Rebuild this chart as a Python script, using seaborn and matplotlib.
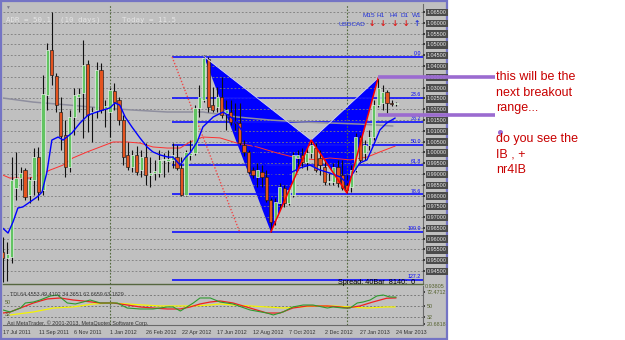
import matplotlib
matplotlib.use("Agg")
import matplotlib.pyplot as plt
from matplotlib.patches import Polygon, Rectangle
import seaborn as sns
import pandas as pd

# ---------------- data (USDCAD weekly) ----------------
opens = [0.9538, 0.9510, 0.9515, 0.9835, 0.9881, 0.9918, 0.9802, 0.9872, 0.9978, 0.9826,
         1.0266, 1.0474, 1.0354, 1.0187, 1.0080, 0.9932, 1.0164, 1.0257, 1.0275, 1.0409,
         1.0182, 1.0196, 1.0382, 1.0206, 1.0187, 1.0284, 1.0243, 1.0150, 0.9988, 0.9932,
         0.9988, 0.9918, 0.9978, 0.9895, 0.9904, 0.9904, 0.9965, 0.9960, 0.9965, 0.9978,
         0.9928, 0.9802, 0.9988, 0.9997, 1.0206, 1.0243, 1.0433, 1.0219, 1.0210, 1.0257,
         1.0182, 1.0187, 1.0141, 1.0136, 1.0034, 1.0002, 0.9918, 0.9886, 0.9909, 0.9886,
         0.9779, 0.9687, 0.9765, 0.9835, 0.9765, 0.9802, 0.9974, 0.9988, 0.9955, 0.9997,
         1.0020, 0.9974, 0.9932, 0.9863, 0.9863, 0.9932, 0.9895, 0.9849, 0.9840, 0.9918,
         1.0071, 0.9997, 1.0034, 1.0071, 1.0219, 1.0229, 1.0280, 1.0229, 1.0224]
highs = [0.9608, 0.9585, 0.9978, 1.0002, 0.9932, 0.9928, 0.9886, 1.0020, 1.0025, 1.0358,
         1.0507, 1.0650, 1.0368, 1.0257, 1.0150, 1.0196, 1.0298, 1.0298, 1.0521, 1.0428,
         1.0210, 1.0419, 1.0414, 1.0243, 1.0298, 1.0321, 1.0257, 1.0173, 1.0048, 1.0011,
         1.0029, 1.0011, 1.0043, 0.9978, 0.9965, 1.0011, 0.9997, 1.0011, 1.0043, 1.0034,
         0.9978, 1.0011, 1.0057, 1.0220, 1.0312, 1.0451, 1.0442, 1.0303, 1.0303, 1.0349,
         1.0243, 1.0243, 1.0229, 1.0229, 1.0057, 1.0011, 0.9932, 0.9951, 0.9941, 0.9918,
         0.9789, 0.9789, 0.9858, 0.9849, 0.9835, 1.0002, 1.0011, 1.0020, 1.0020, 1.0057,
         1.0043, 1.0011, 0.9965, 0.9904, 0.9951, 0.9965, 0.9965, 0.9895, 0.9941, 1.0090,
         1.0080, 1.0057, 1.0104, 1.0243, 1.0345, 1.0312, 1.0289, 1.0243, 1.0233]
lows = [0.9399, 0.9404, 0.9487, 0.9779, 0.9826, 0.9779, 0.9765, 0.9802, 0.9779, 0.9802,
        1.0196, 1.0312, 1.0187, 1.0011, 0.9886, 0.9909, 1.0080, 1.0187, 1.0067, 1.0094,
        1.0048, 1.0159, 1.0182, 1.0117, 1.0071, 1.0196, 1.0127, 0.9941, 0.9918, 0.9909,
        0.9895, 0.9886, 0.9849, 0.9840, 0.9872, 0.9886, 0.9886, 0.9909, 0.9928, 0.9918,
        0.9798, 0.9798, 0.9965, 0.9988, 1.0164, 1.0233, 1.0187, 1.0187, 1.0187, 1.0159,
        1.0104, 1.0127, 1.0104, 1.0034, 0.9983, 0.9900, 0.9881, 0.9840, 0.9840, 0.9770,
        0.9631, 0.9663, 0.9742, 0.9747, 0.9756, 0.9793, 0.9918, 0.9928, 0.9918, 0.9974,
        0.9909, 0.9895, 0.9849, 0.9849, 0.9849, 0.9840, 0.9826, 0.9812, 0.9816, 0.9909,
        0.9951, 0.9965, 1.0011, 1.0057, 1.0210, 1.0196, 1.0182, 1.0215, 1.0215]
closes = [0.9510, 0.9529, 0.9872, 0.9881, 0.9904, 0.9793, 0.9872, 0.9978, 0.9816, 1.0270,
          1.0474, 1.0358, 1.0219, 1.0076, 0.9932, 1.0164, 1.0266, 1.0270, 1.0405, 1.0173,
          1.0187, 1.0382, 1.0196, 1.0215, 1.0289, 1.0233, 1.0150, 0.9978, 0.9932, 0.9988,
          0.9909, 0.9978, 0.9895, 0.9904, 0.9914, 0.9965, 0.9969, 0.9969, 0.9988, 0.9928,
          0.9802, 1.0002, 0.9997, 1.0206, 1.0257, 1.0437, 1.0210, 1.0196, 1.0257, 1.0173,
          1.0196, 1.0141, 1.0136, 1.0043, 1.0002, 0.9909, 0.9895, 0.9918, 0.9886, 0.9779,
          0.9677, 0.9770, 0.9840, 0.9765, 0.9826, 0.9988, 0.9988, 0.9955, 0.9997, 1.0034,
          0.9918, 0.9941, 0.9863, 0.9867, 0.9932, 0.9858, 0.9835, 0.9826, 0.9918, 1.0071,
          0.9965, 1.0034, 1.0071, 1.0219, 1.0298, 1.0280, 1.0229, 1.0224, 1.0229]

date_tick_bars = [0, 8, 16, 24, 32, 40, 48, 56, 64, 72, 80, 88]
date_tick_labels = ["17 Jul 2011", "11 Sep 2011", "6 Nov 2011", "1 Jan 2012",
                    "26 Feb 2012", "22 Apr 2012", "17 Jun 2012", "12 Aug 2012",
                    "7 Oct 2012", "2 Dec 2012", "27 Jan 2013", "24 Mar 2013"]
year_sep_bars = [24, 77]

price_ticks = [0.945, 0.950, 0.955, 0.960, 0.965, 0.970, 0.975, 0.980, 0.985, 0.990,
               0.995, 1.000, 1.005, 1.010, 1.015, 1.020, 1.025, 1.030, 1.035, 1.040,
               1.045, 1.050, 1.055, 1.060, 1.065]
price_tick_labels = ["0.94500", "0.95000", "0.95500", "0.96000", "0.96500", "0.97000",
                     "0.97500", "0.98000", "0.98500", "0.99000", "0.99500", "1.00000",
                     "1.00500", "1.01000", "1.01500", "1.02000", "1.02500", "1.03000",
                     "1.03500", "1.04000", "1.04500", "1.05000", "1.05500", "1.06000",
                     "1.06500"]

blue_ma_bars = [0, 1.2, 2.3, 3.4, 4.5, 6.1, 7.7, 8.8, 9.9, 11.0, 12.4, 13.5, 15.5, 17.3,
                19.1, 21.1, 22.4, 24.0, 25.1, 26.2, 27.4, 28.9, 30.7, 32.3, 33.6, 35.2,
                37.0, 38.1, 39.7, 40.8, 41.9, 43.5, 44.8, 47.1, 49.3, 51.3, 53.1, 55.3,
                57.6, 59.8, 62.0, 64.3, 66.5, 68.7, 71.0, 73.2, 75.5, 77.0, 78.4, 79.9,
                81.5, 82.8, 84.4, 85.9, 87.8]
blue_ma_vals = [0.9649, 0.9626, 0.9677, 0.9742, 0.9747, 0.9770, 0.9793, 0.9816, 0.9909,
                1.0057, 1.0071, 1.0057, 1.0090, 1.0136, 1.0173, 1.0187, 1.0196, 1.0206,
                1.0229, 1.0219, 1.0164, 1.0118, 1.0067, 1.0025, 1.0002, 0.9988, 0.9978,
                0.9978, 0.9941, 0.9974, 0.9997, 1.0048, 1.0118, 1.0164, 1.0187, 1.0159,
                1.0113, 1.0057, 0.9978, 0.9904, 0.9886, 0.9904, 0.9928, 0.9941, 0.9918,
                0.9904, 0.9886, 0.9858, 0.9904, 0.9951, 0.9965, 1.0025, 1.0104, 1.0136,
                1.0159]
red_ma_bars = [0, 1.6, 3.9, 6.1, 8.3, 10.6, 13.5, 15.7, 18.9, 21.8, 24.7, 27.8, 30.7,
               33.6, 36.8, 39.7, 41.9, 44.8, 48.6, 52.4, 56.9, 61.4, 65.8, 70.3, 73.2,
               77.7, 81.5, 84.4, 87.8]
red_ma_vals = [0.9895, 0.9881, 0.9881, 0.9881, 0.9895, 0.9918, 0.9941, 0.9974, 1.0002,
               1.0025, 1.0048, 1.0048, 1.0043, 1.0025, 1.0020, 1.0020, 1.0048, 1.0071,
               1.0067, 1.0043, 1.0025, 0.9997, 0.9974, 0.9965, 0.9974, 0.9965, 0.9978,
               1.0002, 1.0029]
gray_ma_bars = [0, 6.8, 14.4, 21.8, 29.2, 36.8, 44.8, 52.4, 59.8, 66.5, 73.2, 79.9, 87.3]
gray_ma_vals = [1.0252, 1.0233, 1.0220, 1.0206, 1.0196, 1.0187, 1.0187, 1.0164, 1.0150,
                1.0141, 1.0136, 1.0131, 1.0122]

fib_labels = ["0.0", "23.6", "38.2", "50.0", "61.8", "78.6", "100.0", "127.2"]
fib_prices = [1.0442, 1.0252, 1.0141, 1.0036, 0.9941, 0.9805, 0.9631, 0.9410]
fib_start_bar = 37.9

pattern_bars = [45, 60, 69, 77, 84]            # X, A, B, C, D
pattern_prices = [1.0445, 0.9631, 1.0057, 0.9812, 1.0345]

trend_bars = [37.9, 53.1]
trend_prices = [1.0442, 0.9626]

range_bars = [84, 110.1]
range_prices = [1.0349, 1.0173]
dot_bar, dot_price = 111.3, 1.0094

tdi_green_bars = [0, 1.6, 3.9, 5.0, 6.8, 8.3, 10.6, 12.2, 14.4, 16.2, 17.9, 19.5, 21.8,
                  24.0, 25.6, 27.8, 30.7, 33.6, 36.8, 38.1, 39.7, 40.8, 42.6, 44.1, 46.4,
                  48.6, 51.5, 55.3, 59.1, 60.5, 62.7, 64.9, 67.2, 69.4, 72.6, 73.9, 76.1,
                  77.7, 79.3, 80.6, 82.2, 83.7, 85.1, 86.6, 88]
tdi_green_vals = [43.5, 40.2, 46.7, 54.9, 56.5, 59.8, 66.4, 68.0, 54.9, 53.3, 56.5, 59.8,
                  54.9, 54.9, 54.9, 46.7, 45.1, 45.1, 48.4, 48.4, 41.8, 46.7, 54.9, 63.1,
                  63.1, 56.5, 53.3, 43.5, 38.5, 35.3, 40.2, 48.4, 51.6, 51.6, 46.7, 48.4,
                  46.7, 46.7, 54.9, 56.5, 59.8, 66.4, 68.0, 64.7, 64.5]
tdi_red_bars = [0, 1.6, 3.9, 6.8, 9.9, 12.8, 15.7, 17.9, 21.8, 24.7, 27.8, 30.7, 33.6,
                36.8, 39.7, 41.9, 44.1, 46.4, 48.6, 51.5, 55.3, 59.1, 62.0, 64.9, 68.1,
                72.6, 75.5, 77.0, 79.9, 82.8, 85.9, 88]
tdi_red_vals = [38.5, 40.2, 46.7, 54.9, 61.5, 63.1, 59.8, 58.2, 54.9, 54.9, 51.6, 48.4,
                46.7, 45.1, 45.1, 48.4, 53.3, 56.5, 58.2, 54.9, 46.7, 38.5, 38.5, 46.7,
                50.0, 50.0, 48.4, 46.7, 50.0, 56.5, 62.7, 63.2]
tdi_yellow_bars = [1.6, 6.8, 11.3, 15.7, 20.2, 24.0, 27.8, 31.4, 35.2, 39.0, 42.6, 46.4,
                   48.6, 51.5, 55.3, 59.1, 62.7, 66.5, 70.3, 73.9, 77.7, 81.5, 85.9, 87.8]
tdi_yellow_vals = [35.3, 40.2, 46.7, 48.4, 53.3, 54.9, 53.3, 51.6, 50.0, 50.0, 50.0, 51.6,
                   53.3, 51.6, 50.0, 48.4, 46.7, 48.4, 50.0, 50.0, 48.4, 46.7, 48.4, 48.4]
tdi_levels = [68, 50, 32]
tdi_axis_ticks = [72.4712, 50, 32, 20.6818]
tdi_axis_labels = ["72.4712", "50", "32", "20.6818"]

# ---------------- figure ----------------
sns.set_theme(style="white")
plt.rcParams['font.family'] = ['Liberation Sans', 'DejaVu Sans']

W, H = 625, 340
fig = plt.figure(figsize=(W / 100, H / 100), dpi=100)
fig.patch.set_facecolor("white")


def frame(x0, y0, x1, y1):
    return [x0 / W, 1 - y1 / H, (x1 - x0) / W, (y1 - y0) / H]


# terminal window background
fig.add_artist(Rectangle((0.5 / W, 1 - 339 / H), 447 / W, 338.5 / H, transform=fig.transFigure,
                         facecolor="#C0C0C0", edgecolor="#7474C4", linewidth=1.6, zorder=-5))

BG = "#C0C0C0"
ax = fig.add_axes(frame(3, 4, 423, 284))
ax.set_facecolor(BG)
ax.set_xlim(0.07, 94.03)
ax.set_ylim(0.93899, 1.06875)

# harmonic pattern fill
pts = list(zip(pattern_bars, pattern_prices))
ax.add_patch(Polygon([pts[0], pts[1], pts[2]], closed=True, facecolor="#0000FF", edgecolor="none", zorder=1))
ax.add_patch(Polygon([pts[2], pts[3], pts[4]], closed=True, facecolor="#0000FF", edgecolor="none", zorder=1))

# grid
ax.set_yticks(price_ticks)
ax.set_yticklabels(price_tick_labels)
ax.yaxis.tick_right()
ax.set_axisbelow(False)
ax.yaxis.grid(True, color="#7C7C7C", linestyle=(0, (2.2, 2.2)), linewidth=0.6)
for b in year_sep_bars:
    ax.axvline(b, color="#52683C", linestyle=(0, (1.5, 1.5)), linewidth=0.8, zorder=2.6)

# fibo levels
for lab, pr in zip(fib_labels, fib_prices):
    ax.plot([fib_start_bar, 94.03], [pr, pr], color="#1010FF", lw=1.2, zorder=2.7, solid_capstyle="butt")
    ax.text(93.6, pr + 0.0003, lab, color="#0000FF", fontsize=3.8, ha="right", va="bottom", zorder=6)

# dotted trend line
ax.plot(trend_bars, trend_prices, color="#F04848", lw=1.0, linestyle=(0, (1, 1.3)), zorder=2.8)

# moving averages (seaborn)
sns.lineplot(x=gray_ma_bars, y=gray_ma_vals, ax=ax, color="#8E8E9E", lw=1.1, sort=False, estimator=None, zorder=3)
sns.lineplot(x=red_ma_bars, y=red_ma_vals, ax=ax, color="#FF3030", lw=0.7, sort=False, estimator=None, zorder=3)

# candles
for i, (o, h, l, c) in enumerate(zip(opens, highs, lows, closes)):
    bull = c >= o
    ax.plot([i, i], [l, h], color="#111111", lw=0.8, zorder=3.5, solid_capstyle="butt")
    body = max(abs(c - o), 0.00025)
    ax.bar(i, body, bottom=min(o, c), width=0.72,
           color="#62C462" if bull else "#E4531E",
           edgecolor="#F4F4F4" if bull else "#1A1A1A", linewidth=0.45, zorder=4)

sns.lineplot(x=blue_ma_bars, y=blue_ma_vals, ax=ax, color="#0000FF", lw=1.0, sort=False, estimator=None, zorder=4.5)

# pattern legs
ax.plot([pts[0][0], pts[2][0]], [pts[0][1], pts[2][1]], color="#D8D8F0", lw=0.6, zorder=4.6)
ax.plot([pts[2][0], pts[4][0]], [pts[2][1], pts[4][1]], color="#D8D8F0", lw=0.6, zorder=4.6)
ax.plot(pattern_bars[1:], pattern_prices[1:], color="#FF0000", lw=1.1, zorder=4.7)

# breakout range lines (extend outside window)
for pr in range_prices:
    ax.plot(range_bars, [pr, pr], color="#9B6BD0", lw=2.6, clip_on=False, zorder=10,
            solid_capstyle="butt")
ax.plot([dot_bar], [dot_price], marker="o", ms=2.6, color="#9B6BD0", clip_on=False, zorder=10)

ax.tick_params(axis="y", which="both", direction="out", length=1.5, pad=1.2, labelsize=3.9,
               colors="#303030", labelcolor="#E8E8E8")
for t in ax.get_yticklabels():
    t.set_bbox(dict(boxstyle="square,pad=0.22", facecolor="#4B4B4B", edgecolor="none"))
ax.set_xticks([])
for s in ["left", "top"]:
    ax.spines[s].set_visible(False)
ax.spines["right"].set_color("#6A6A6A")
ax.spines["right"].set_linewidth(0.8)
ax.spines["bottom"].set_color("#55663F")
ax.spines["bottom"].set_linewidth(1.0)

# ---------------- TDI pane ----------------
ax2 = fig.add_axes(frame(3, 286, 423, 325))
ax2.set_facecolor(BG)
ax2.set_xlim(0.07, 94.03)
ax2.set_ylim(18.9, 82.7)
for lv in tdi_levels:
    ax2.axhline(lv, color="#6E6E6E", linestyle=(0, (2.2, 2.2)), lw=0.6, zorder=1)
for b in year_sep_bars:
    ax2.axvline(b, color="#52683C", linestyle=(0, (1.5, 1.5)), linewidth=0.8, zorder=1.5)
sns.lineplot(x=tdi_yellow_bars, y=tdi_yellow_vals, ax=ax2, color="#F4F400", lw=0.9, sort=False, estimator=None)
sns.lineplot(x=tdi_red_bars, y=tdi_red_vals, ax=ax2, color="#F02020", lw=0.9, sort=False, estimator=None)
sns.lineplot(x=tdi_green_bars, y=tdi_green_vals, ax=ax2, color="#2E9A2E", lw=0.8, sort=False, estimator=None)
ax2.set_yticks(tdi_axis_ticks)
ax2.set_yticklabels(tdi_axis_labels)
ax2.yaxis.tick_right()
ax2.tick_params(axis="y", direction="out", length=1.5, pad=1.2, labelsize=3.9,
                colors="#303030", labelcolor="#55612E")
ax2.set_xticks(date_tick_bars)
ax2.set_xticklabels(date_tick_labels, ha="left")
ax2.tick_params(axis="x", direction="out", length=2, pad=1.5, labelsize=3.9,
                colors="#303030", labelcolor="#333333")
for s in ["left", "top"]:
    ax2.spines[s].set_visible(False)
ax2.spines["right"].set_color("#6A6A6A")
ax2.spines["right"].set_linewidth(0.8)
ax2.spines["bottom"].set_color("#6A6A6A")
ax2.spines["bottom"].set_linewidth(0.8)
ax2.set_xlabel("")
ax2.set_ylabel("")
ax.set_xlabel("")
ax.set_ylabel("")


def ftext(x, y, s, **kw):
    fig.text(x / W, 1 - y / H, s, **kw)


# ---------------- texts ----------------
ftext(6, 20, "ADR = 50.1  (10 days)", color="#E4E4E4", fontsize=5.4, va="center",
      family="DejaVu Sans Mono")
ftext(122, 20, "Today = 11.5", color="#E4E4E4", fontsize=5.4, va="center", family="DejaVu Sans Mono")
ftext(5, 7, "\u25bc", color="#7A7A8A", fontsize=3.5, va="center")

for lab, xc in zip(["M15", "H1", "H4", "D1", "W1"], [369, 381, 394, 405, 417]):
    ftext(xc, 15.5, lab, color="#2030D8", fontsize=4.6, ha="center", va="center")
for xc, up in zip([372, 383, 395, 406, 417], [False, False, False, False, True]):
    ftext(xc, 24, "\u2191" if up else "\u2193", color="#2030D8" if up else "#E01010",
          fontsize=5.5, ha="center", va="center", fontweight="bold", family="DejaVu Sans")
ftext(352, 24.5, "USDCAD", color="#2030D8", fontsize=4.6, ha="center", va="center")

ftext(338, 282, "Spread: 40Bar  8140:  0", color="#000000", fontsize=5.2, va="center")
ftext(425, 287, "0.93805", color="#55612E", fontsize=3.9, va="center")
ftext(10, 294, "TDI 64.4553 49.4102 34.3651 62.6659 63.1829", color="#3A3A3A", fontsize=3.9, va="center")
ftext(5, 302, "50", color="#55612E", fontsize=3.9, va="center")
ftext(5, 314, "32", color="#55612E", fontsize=3.9, va="center")
ftext(7, 323, "Axi MetaTrader, \u00a9 2001-2013, MetaQuotes Software Corp.", color="#333333",
      fontsize=3.9, va="center")

red = "#C80000"
for txt, yy in [("this will be the", 77), ("next breakout", 93), ("range...", 108),
                ("do you see the", 139), ("IB , +", 155), ("nr4IB", 170)]:
    ftext(496, yy, txt, color=red, fontsize=9, va="center")

fig.savefig("out.png", dpi=100, facecolor="white")
